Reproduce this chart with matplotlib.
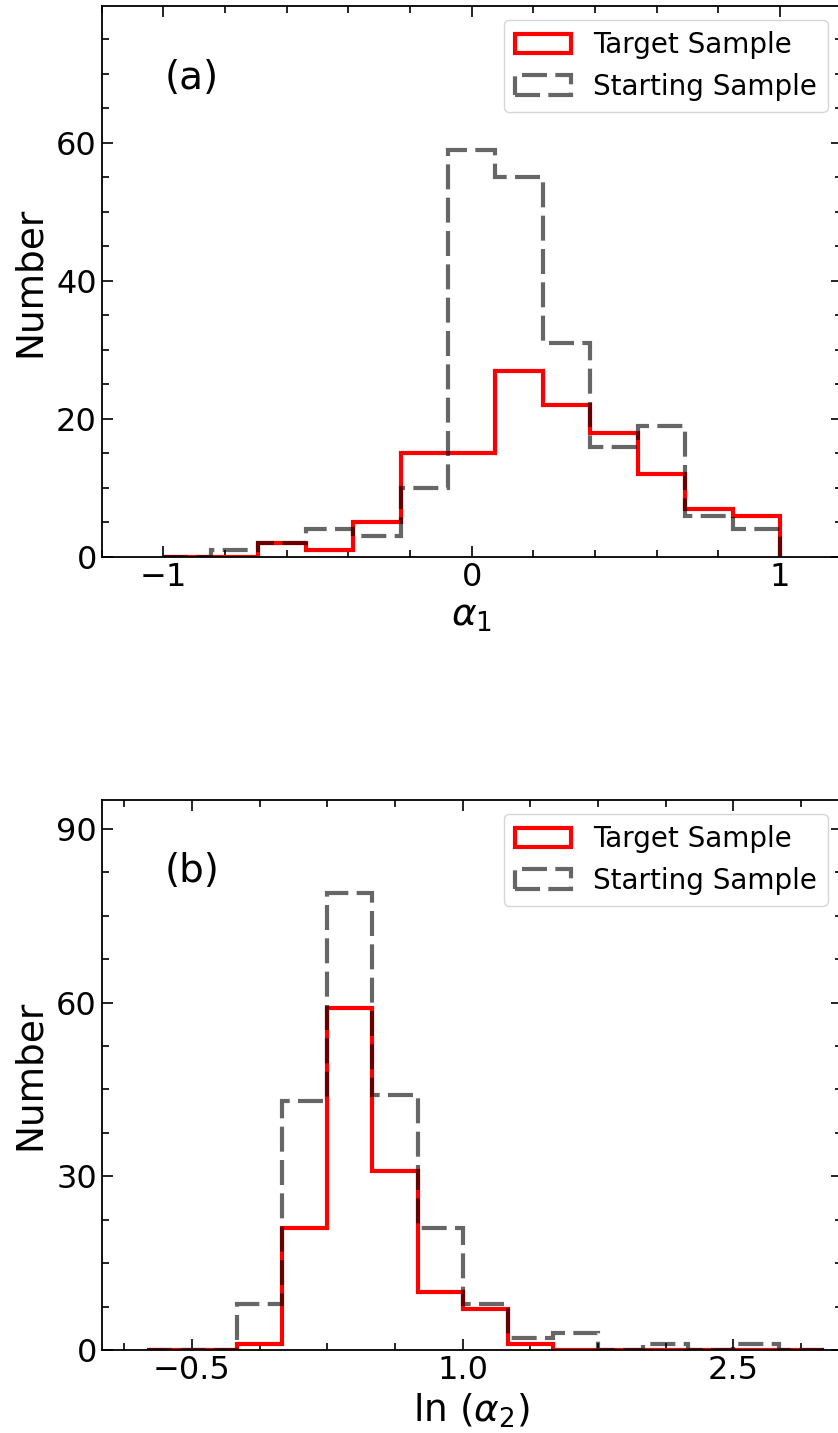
import numpy as np
import matplotlib
matplotlib.use("Agg")
import matplotlib.pyplot as plt
from matplotlib.ticker import MultipleLocator, AutoMinorLocator

# panel (a): alpha_1, 13 bins from -1 to 1
a_edges = np.linspace(-1.0, 1.0, 14)
a_target = [0, 0, 2, 1, 5, 15, 15, 27, 22, 18, 12, 7, 6]
a_start = [0, 1, 2, 4, 3, 10, 59, 55, 31, 16, 19, 6, 4]

# panel (b): ln(alpha_2), 15 bins
b_edges = np.linspace(-0.75, 3.0, 16)
b_target = [0, 0, 1, 21, 59, 31, 10, 7, 1, 0, 0, 0, 0, 0, 0]
b_start = [0, 0, 8, 43, 79, 44, 21, 8, 2, 3, 0, 1, 0, 1, 0]

a_ticks = [-1, 0, 1]
b_ticks = [-0.5, 1.0, 2.5]

plt.rcParams['font.family'] = 'DejaVu Sans'
plt.rcParams['mathtext.fontset'] = 'dejavusans'

fig = plt.figure(figsize=(8.38, 14.33), dpi=100)
W, H = 838, 1433
ax1 = fig.add_axes([101.7 / W, 1 - 557 / H, 740 / W, 551 / H])
ax2 = fig.add_axes([101.7 / W, 1 - 1350 / H, 740 / W, 550 / H])


def draw_panel(ax, edges, target, start, label):
    edges = np.asarray(edges)
    centers = 0.5 * (edges[:-1] + edges[1:])
    ax.hist(centers, bins=edges, weights=target, histtype='step',
            color='red', lw=3, label='Target Sample')
    ax.hist(centers, bins=edges, weights=start, histtype='step',
            color='black', alpha=0.6, lw=3, linestyle=(0, (6, 2)),
            label='Starting Sample')
    ax.tick_params(which='both', direction='in', top=True, right=True,
                   labelsize=23)
    ax.tick_params(which='major', length=8, width=1.2)
    ax.tick_params(which='minor', length=5, width=1.2)
    ax.xaxis.set_minor_locator(AutoMinorLocator())
    ax.yaxis.set_minor_locator(AutoMinorLocator())
    for s in ax.spines.values():
        s.set_linewidth(1.3)
    ax.set_ylabel('Number', fontsize=27, labelpad=6)
    ax.text(0.122, 0.87, label, transform=ax.transAxes, fontsize=28,
            ha='center', va='center')
    ax.legend(loc='upper right', fontsize=20)


draw_panel(ax1, a_edges, a_target, a_start, '(a)')
ax1.set_xlim(-1.2, 1.2)
ax1.set_ylim(0, 79.8)
ax1.set_xticks(a_ticks)
ax1.yaxis.set_major_locator(MultipleLocator(20))
ax1.set_xlabel(r'$\alpha_1$', fontsize=27)

draw_panel(ax2, b_edges, b_target, b_start, '(b)')
ax2.set_xlim(-1.0, 3.1)
ax2.set_ylim(0, 95)
ax2.set_xticks(b_ticks)
ax2.set_xticklabels(['\u22120.5', '1.0', '2.5'])
ax2.yaxis.set_major_locator(MultipleLocator(30))
ax2.set_xlabel(r'ln ($\alpha_2$)', fontsize=27)

fig.savefig('out.png', dpi=100)
